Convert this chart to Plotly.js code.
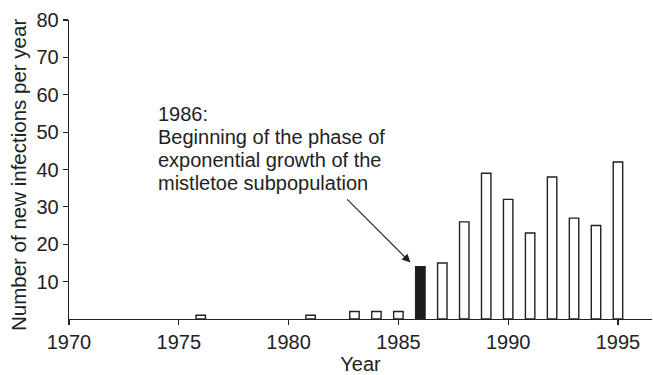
<!DOCTYPE html>
<html>
<head>
<meta charset="utf-8">
<script src="https://cdn.plot.ly/plotly-3.0.1.min.js"></script>
<style>html,body{margin:0;padding:0;background:#fff;}#chart{width:653px;height:375px;}</style>
</head>
<body>
<div id="chart"></div>
<script>
const years = [1976, 1981, 1983, 1984, 1985, 1986, 1987, 1988, 1989, 1990, 1991, 1992, 1993, 1994, 1995];
const infections = [1, 1, 2, 2, 2, 14, 15, 26, 39, 32, 23, 38, 27, 25, 42];
const highlightYear = 1986;
const xTickVals = [1970, 1975, 1980, 1985, 1990, 1995];
const yTickVals = [10, 20, 30, 40, 50, 60, 70, 80];
const noteLines = ["1986:", "Beginning of the phase of", "exponential growth of the", "mistletoe subpopulation"];
const yTitle = "Number of new infections per year";

const fills = years.map(y => y === highlightYear ? '#1a1a1a' : '#ffffff');
const hiIdx = years.indexOf(highlightYear);

const font = "Liberation Sans, Arial, Helvetica, sans-serif";
const ink = '#222222';

const trace = {
  type: 'bar',
  x: years,
  y: infections,
  width: 0.43,
  marker: {color: fills, line: {color: ink, width: 1.4}},
  hoverinfo: 'x+y'
};

// note text: one annotation per line for tight line spacing
const noteTop = 54.9, noteStep = 6.16;
const noteAnns = noteLines.map((t, i) => ({
  xref: 'x', yref: 'y', x: 1973.95, y: noteTop - i * noteStep,
  xanchor: 'left', yanchor: 'middle', align: 'left',
  text: t, showarrow: false,
  font: {size: 20, color: ink, family: font}
}));

const layout = {
  width: 653, height: 375,
  margin: {l: 69, r: 1, t: 20, b: 56},
  paper_bgcolor: '#fff', plot_bgcolor: '#fff',
  showlegend: false,
  font: {family: font, color: ink, size: 20},
  xaxis: {
    range: [1970, 1996.55],
    tickvals: xTickVals,
    ticktext: xTickVals.map(String),
    ticks: 'outside', ticklen: 5, tickwidth: 1.2, tickcolor: ink,
    showline: true, linecolor: ink, linewidth: 1.3,
    showgrid: false, zeroline: false,
    tickfont: {size: 20, color: ink},
    title: {text: 'Year', font: {size: 20, color: ink}, standoff: 4}
  },
  yaxis: {
    range: [0, 80],
    tickvals: yTickVals,
    ticktext: yTickVals.map(String),
    ticks: 'outside', ticklen: 5, tickwidth: 1.2, tickcolor: ink,
    showline: true, linecolor: ink, linewidth: 1.3,
    showgrid: false, zeroline: false,
    tickfont: {size: 20, color: ink}
  },
  annotations: noteAnns.concat([
    {
      xref: 'paper', yref: 'paper', x: 0, y: 0.4816, xshift: -51,
      xanchor: 'center', yanchor: 'middle', textangle: -90,
      text: yTitle, showarrow: false,
      font: {size: 20.5, color: ink, family: font}
    },
    {
      xref: 'x', yref: 'y', x: years[hiIdx] - 0.45, y: infections[hiIdx] + 1.1,
      axref: 'x', ayref: 'y', ax: 1982.6, ay: 32.4,
      text: '', showarrow: true, arrowhead: 2, arrowsize: 1.4, arrowwidth: 1.2, arrowcolor: ink
    }
  ])
};

Plotly.newPlot('chart', [trace], layout, {displayModeBar: false, staticPlot: true});
</script>
</body>
</html>
